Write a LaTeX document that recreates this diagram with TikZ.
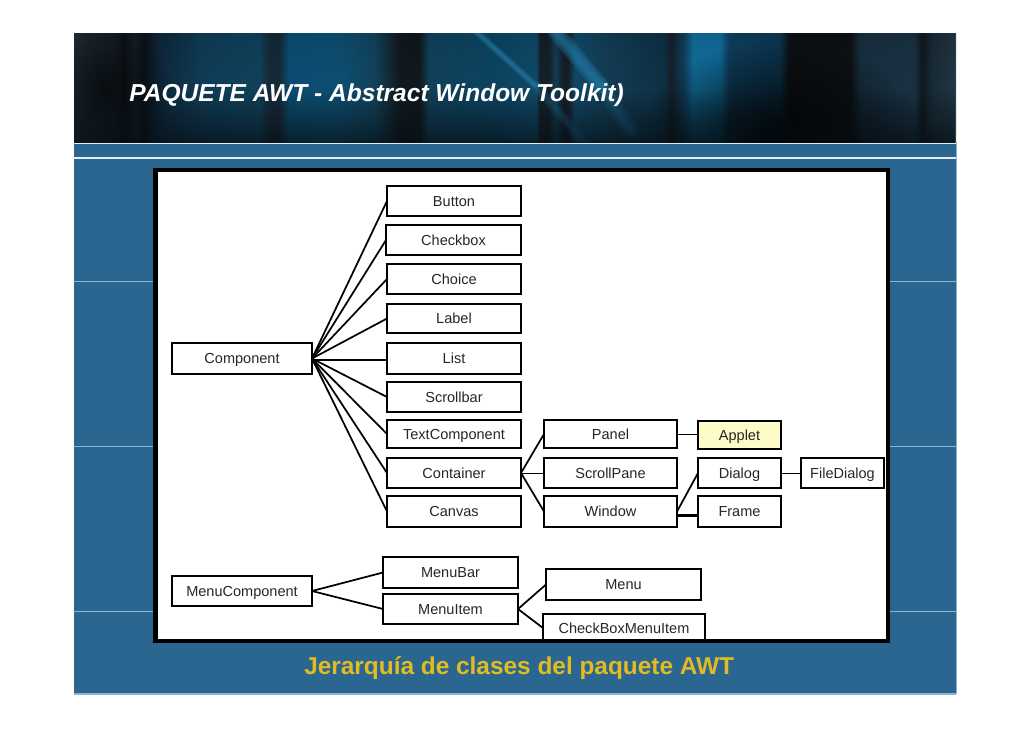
\documentclass[tikz,border=0pt]{standalone}
\usepackage{fontspec}
\setmainfont{Liberation Sans}
\usetikzlibrary{fadings}
\definecolor{slideblue}{HTML}{2A668F}
\definecolor{edgeblue}{HTML}{8DB4CE}
\definecolor{capgold}{HTML}{E2BB22}
\definecolor{ink}{HTML}{262626}
\definecolor{appletfill}{HTML}{FDFBC8}
\definecolor{streak}{HTML}{2A96CC}
\definecolor{hA}{HTML}{2A3A44}\definecolor{hB}{HTML}{1E2C36}\definecolor{hC}{HTML}{141A20}\definecolor{hD}{HTML}{1C2A34}
\definecolor{hE}{HTML}{12181E}\definecolor{hF}{HTML}{123048}\definecolor{hG}{HTML}{134A6A}\definecolor{hH}{HTML}{14506F}
\definecolor{hI}{HTML}{1C3344}\definecolor{hJ}{HTML}{1A3244}\definecolor{hK}{HTML}{0F5F8C}\definecolor{hL}{HTML}{11608C}
\definecolor{hM}{HTML}{175270}\definecolor{hN}{HTML}{161E26}\definecolor{hO}{HTML}{141C22}\definecolor{hP}{HTML}{15506F}
\definecolor{hQ}{HTML}{0F5377}\definecolor{hR}{HTML}{14597F}\definecolor{hS}{HTML}{1A2630}\definecolor{hT}{HTML}{174C68}
\definecolor{hU}{HTML}{123A54}\definecolor{hV}{HTML}{154E72}\definecolor{hW}{HTML}{1585BC}\definecolor{hX}{HTML}{134E74}
\definecolor{hY}{HTML}{0F4566}\definecolor{hZ}{HTML}{121619}\definecolor{iA}{HTML}{1E3A4E}\definecolor{iB}{HTML}{1F3D52}
\definecolor{iC}{HTML}{161C22}\definecolor{iD}{HTML}{1E3442}\definecolor{iE}{HTML}{2A4252}
\pgfdeclarehorizontalshading{headerbands}{100bp}{
 color(0bp)=(hA);color(25bp)=(hA);color(27.27bp)=(hB);color(27.83bp)=(hC);color(28.40bp)=(hD);
 color(28.97bp)=(hE);color(29.82bp)=(hF);color(32.37bp)=(hG);color(35.49bp)=(hH);
 color(36.05bp)=(hI);color(36.62bp)=(hJ);color(37.19bp)=(hK);color(40.02bp)=(hL);
 color(42.01bp)=(hM);color(43.42bp)=(hN);color(44.56bp)=(hO);color(45.12bp)=(hP);
 color(48.81bp)=(hQ);color(51.2bp)=(hR);color(51.4bp)=(hS);color(51.9bp)=(hS);color(52.3bp)=(hT);
 color(52.7bp)=(hS);color(53bp)=(hS);color(53.4bp)=(hR);color(55.05bp)=(hT);
 color(58.45bp)=(hU);color(58.84bp)=(hS);color(59.58bp)=(hV);color(60.09bp)=(hW);color(61.62bp)=(hW);
 color(62.13bp)=(hX);color(64.97bp)=(hY);color(65.53bp)=(hZ);color(68.99bp)=(hZ);color(69.56bp)=(iA);
 color(72.62bp)=(iB);color(73.07bp)=(iC);color(73.64bp)=(iD);color(75bp)=(iE);color(100bp)=(iE)}
\tikzfading[name=headervfade,top color=transparent!75,bottom color=transparent!100,middle color=transparent!100]
\tikzfading[name=headerbfade,top color=transparent!100,bottom color=transparent!25,middle color=transparent!78]
\tikzfading[name=softblob,inner color=transparent!0,outer color=transparent!100]
\tikzset{
 x=0.75pt,y=-0.75pt,
 clsbox/.style={draw=black,fill=white,line width=1.5pt,inner sep=0pt,outer sep=0pt,text=ink,text height=9pt,text depth=1pt,font=\fontsize{10.9pt}{12pt}\selectfont},
 link/.style={draw=black,line width=1.3pt,line cap=round},
 heavylink/.style={draw=black,line width=1.6pt},
 thinlink/.style={draw=black,line width=0.7pt},
 guide/.style={draw=edgeblue,line width=0.6pt},
 rule/.style={draw=white!88!slideblue,line width=0.9pt},
 glow/.style={draw=streak,line cap=round,opacity=.3}
}
\newcommand{\clsnode}[6][]{\node[clsbox,#1,minimum width={(#4-#2)*0.75pt},minimum height={(#5-#3)*0.75pt}] (#6) at ({(#2+#4)/2},{(#3+#5)/2})}
\begin{document}
\begin{tikzpicture}
\useasboundingbox (0,0) rectangle (1030,728);
\fill[white] (0,0) rectangle (1030,728);
% slide
\fill[slideblue] (74,143) rectangle (956,694);
\draw[edgeblue,line width=0.8pt] (74,694) -- (956,694);
\draw[edgeblue,line width=0.6pt] (956,143) -- (956,694);
\foreach \yy in {281,446,611}{\draw[guide] (74,\yy) -- (153,\yy); \draw[guide] (890,\yy) -- (956,\yy);}
% header image
\begin{scope}
\clip (74,33) rectangle (956,143);
\shade[shading=headerbands] (74,33) rectangle (956,143);
\fill[black,path fading=softblob] (640,40) rectangle (920,240);
\fill[black,path fading=softblob,opacity=.7] (40,20) rectangle (170,160);
\foreach \w in {1,2,3,4}{
  \draw[glow,line width=\w*1.3pt] (472,28) -- (535,85);
  \draw[glow,line width=\w*3pt] (553,28) -- (600,85);
  \draw[glow,opacity=.12,line width=\w*3pt] (600,85) -- (630,130);
  \draw[glow,opacity=.12,line width=\w*2pt] (535,85) -- (585,143);
}
\fill[black,path fading=headervfade] (74,33) rectangle (956,143);
\fill[black!88!slideblue,path fading=headerbfade] (74,33) rectangle (956,143);
\end{scope}
\draw[rule] (74,143.5) -- (956,143.5);
\draw[rule] (74,158) -- (956,158);
% title and caption
\node[anchor=base west,inner sep=0pt,text=white,font=\fontsize{18.4pt}{22pt}\selectfont\bfseries\itshape] (title) at (129,101) {PAQUETE AWT - Abstract Window Toolkit)};
\node[anchor=base west,inner sep=0pt,text=capgold,font=\fontsize{18.3pt}{22pt}\selectfont\bfseries] (caption) at (304,674) {Jerarquía de clases del paquete AWT};
% white panel
\fill[white] (155,170) rectangle (888,641);
% class boxes
\clsnode{172}{343}{312}{374}{component}{Component};
\clsnode{387}{186}{521}{216}{button}{Button};
\clsnode{386}{225}{521}{255}{checkbox}{Checkbox};
\clsnode{387}{264}{521}{294}{choice}{Choice};
\clsnode{387}{304}{521}{333}{label}{Label};
\clsnode{387}{343}{521}{374}{list}{List};
\clsnode{387}{382}{521}{412}{scrollbar}{Scrollbar};
\clsnode{387}{420}{521}{448}{textcomp}{TextComponent};
\clsnode{387}{458}{521}{488}{container}{Container};
\clsnode{387}{496}{521}{527}{canvas}{Canvas};
\clsnode{544}{420}{677}{448}{panel}{Panel};
\clsnode{544}{458}{677}{488}{scrollpane}{ScrollPane};
\clsnode{544}{496}{677}{527}{window}{Window};
\clsnode[fill=appletfill]{698}{421}{781}{449}{applet}{Applet};
\clsnode{698}{458}{781}{488}{dialog}{Dialog};
\clsnode{698}{496}{781}{527}{frame}{Frame};
\clsnode{801}{458}{884}{488}{filedialog}{FileDialog};
\clsnode{172}{576}{312}{606}{menucomp}{MenuComponent};
\clsnode{383}{557}{518}{588}{menubar}{MenuBar};
\clsnode{383}{594}{518}{624}{menuitem}{MenuItem};
\clsnode{546}{569}{701}{600}{menu}{Menu};
\clsnode{543}{614}{705}{642}{cbmenuitem}{CheckBoxMenuItem};
% connectors
\foreach \t in {button,checkbox,choice,label,scrollbar,textcomp,container,canvas}
  \draw[link] (component.east) -- (\t.west);
\draw[heavylink] ([yshift=-0.9pt]component.east) -- ([yshift=-0.9pt]list.west);
\draw[link] (container.east) -- (panel.west);
\draw[thinlink] (container.east) -- (scrollpane.west);
\draw[link] (container.east) -- (window.west);
\draw[thinlink] (panel.east) -- (panel.east -| applet.west);
\draw[link] (window.east) -- (dialog.west);
\draw[heavylink] ([yshift=-3pt]window.east) -- ([yshift=-3pt]frame.west);
\draw[thinlink] (dialog.east) -- (filedialog.west);
\draw[link] (menucomp.east) -- (menubar.west);
\draw[link] (menucomp.east) -- (menuitem.west);
\draw[link] (menuitem.east) -- (menu.west);
\draw[link] (menuitem.east) -- (cbmenuitem.west);
% panel border
\draw[black,line width=3.4pt] (155.5,170) rectangle (888,641);
\end{tikzpicture}
\end{document}
